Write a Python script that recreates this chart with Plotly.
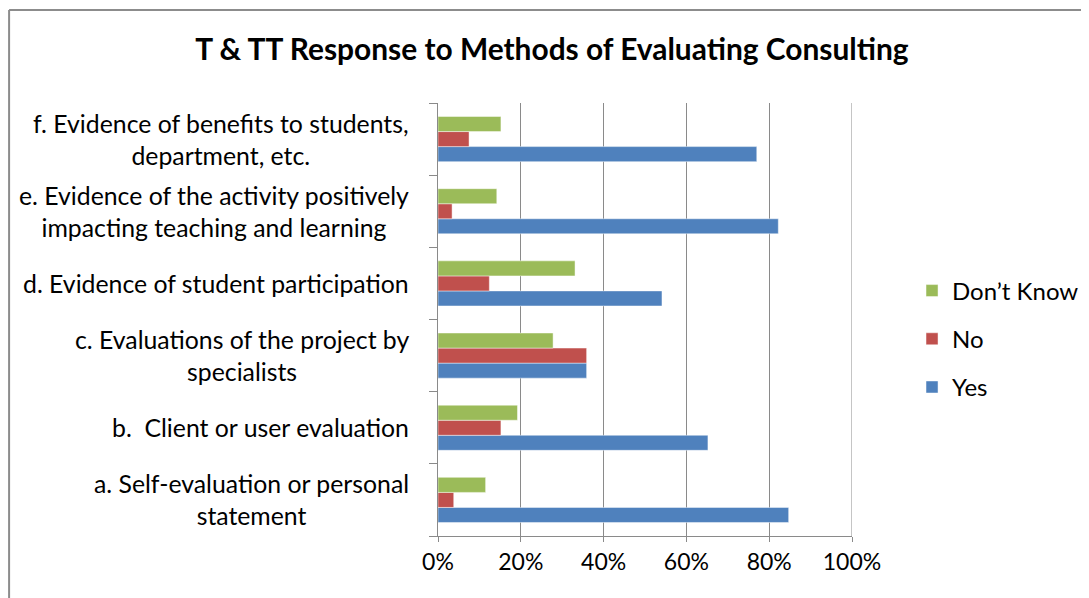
import plotly.graph_objects as go

categories = [
    "a. Self-evaluation or personal<br>statement",
    "b.  Client or user evaluation",
    "c. Evaluations of the project by<br>specialists",
    "d. Evidence of student participation",
    "e. Evidence of the activity positively<br>impacting teaching and learning",
    "f. Evidence of benefits to students,<br>department, etc.",
]
cat_keys = ["a", "b", "c", "d", "e", "f"]
yes_vals = [0.847, 0.652, 0.359, 0.541, 0.822, 0.770]
no_vals = [0.038, 0.152, 0.359, 0.124, 0.034, 0.075]
dk_vals = [0.115, 0.192, 0.278, 0.331, 0.142, 0.152]
x_ticks = [0, 0.2, 0.4, 0.6, 0.8, 1.0]

FONT = "Lato"
fig = go.Figure()
series = [("Yes", yes_vals, "#4F81BD", 3), ("No", no_vals, "#C0504D", 2), ("Don\u2019t Know", dk_vals, "#9BBB59", 1)]
for name, vals, col, rank in series:
    fig.add_trace(go.Bar(
        y=cat_keys, x=vals, name=name, orientation="h",
        marker=dict(color=col, line=dict(color="rgba(255,255,255,0.45)", width=1)),
        legendgroup=name, legendrank=rank,
    ))

for key, lab in zip(cat_keys, categories):
    fig.add_annotation(
        x=0, xref="paper", y=key, yref="y", xanchor="right", xshift=-27,
        text=lab, showarrow=False, align="center",
        font=dict(family=FONT, size=24.8, color="#000000"),
    )

grid = "#8a8a8a"
fig.update_layout(
    width=1089, height=598,
    margin=dict(l=430, r=245, t=95, b=70),
    paper_bgcolor="white", plot_bgcolor="white",
    barmode="group", bargap=0.375, bargroupgap=0,
    title=dict(text="<b>T & TT Response to Methods of Evaluating Consulting</b>",
               x=0.4995, xref="container", xanchor="center", y=0.93, yref="container",
               yanchor="middle",
               font=dict(family=FONT, size=29.9, color="#000000")),
    legend=dict(x=1.145, y=0.455, xanchor="left", yanchor="middle",
                traceorder="grouped", tracegroupgap=14,
                font=dict(family=FONT, size=24, color="#000000"),
                bgcolor="rgba(0,0,0,0)"),
    xaxis=dict(range=[0, 1], tickvals=x_ticks, tickformat=".0%",
               showgrid=True, gridcolor=grid, gridwidth=1,
               showline=True, linecolor=grid, linewidth=1,
               ticks="outside", ticklen=5, tickcolor=grid,
               tickfont=dict(family=FONT, size=23, color="#000000"),
               zeroline=False, fixedrange=True),
    yaxis=dict(type="category", categoryorder="array", categoryarray=cat_keys,
               showticklabels=False, showgrid=False,
               showline=True, linecolor=grid, linewidth=1,
               ticks="outside", ticklen=8, tickcolor=grid, tickson="boundaries",
               zeroline=False, fixedrange=True),
    showlegend=True,
)

# gridline at 100%
fig.add_shape(type="line", xref="x", yref="paper", x0=1, x1=1, y0=0, y1=1,
              line=dict(color=grid, width=1))
# chart outer border (top and left)
fig.add_shape(type="line", xref="paper", yref="paper", x0=-1.036, x1=1.7, y0=1.2148, y1=1.2148,
              line=dict(color="#8c8c8c", width=2))
fig.add_shape(type="line", xref="paper", yref="paper", x0=-1.036, x1=-1.036, y0=1.2148, y1=-0.3,
              line=dict(color="#8c8c8c", width=2))

fig.write_html("out.html")
